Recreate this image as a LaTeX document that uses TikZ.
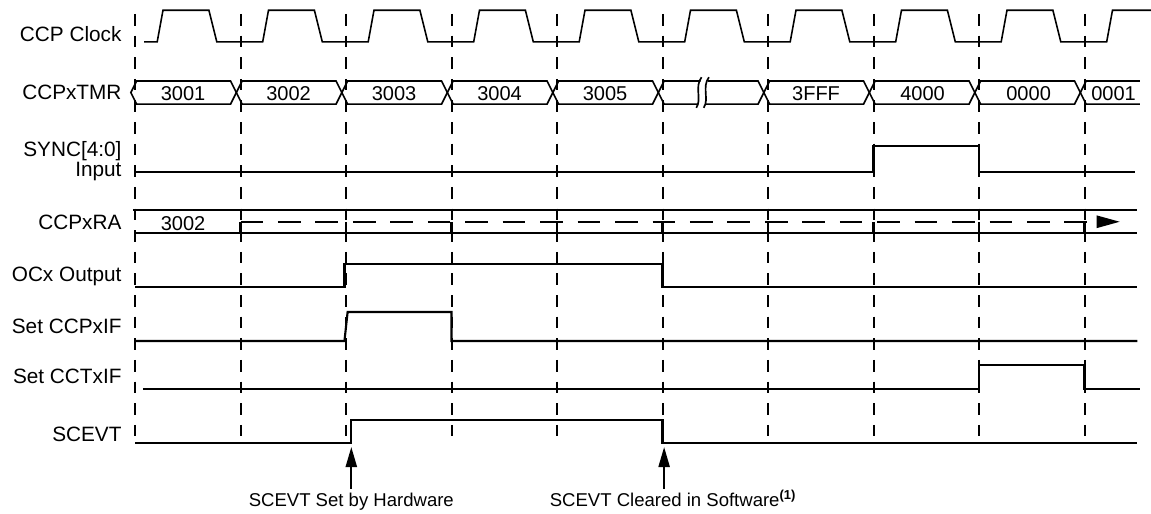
\documentclass[tikz,border=0pt]{standalone}
\usepackage{fontspec}
\setmainfont{Liberation Sans}
\usetikzlibrary{arrows.meta}

\begin{document}
\begin{tikzpicture}[
        sigline/.style={line width=1.15pt},
        clkline/.style={line width=0.85pt},
        busline/.style={line width=0.9pt},
        gridline/.style={line width=1.1pt, dash pattern=on 0.22cm off 0.19cm},
        raline/.style={line width=1.15pt, dash pattern=on 0.43cm off 0.28cm, -{Triangle[length=0.44cm, width=0.23cm]}},
        evarrow/.style={line width=1.15pt, -{Triangle[length=0.38cm, width=0.21cm]}},
        lbl/.style={anchor=base east, inner sep=0pt, font=\fontsize{11.2}{13}\selectfont},
        busval/.style={anchor=base, inner sep=0pt, font=\fontsize{10.8}{13}\selectfont},
        evlbl/.style={anchor=base, inner sep=2pt, text height=7.5pt, text depth=2pt, font=\fontsize{10}{12}\selectfont}
    ]

        \useasboundingbox (-2.56, 0) rectangle (19.26, 9.744);

        % Define nodes (row labels)

        \node (clklbl) at (-0.25, 8.95) [lbl] {CCP Clock};

        \node (tmrlbl) at (-0.25, 7.85) [lbl] {CCPxTMR};

        \node (synclbl) at (-0.25, 6.69) [lbl, anchor=east, align=right, font=\fontsize{11.2}{11.2}\selectfont] {SYNC[4:0]\\Input};

        \node (ralbl) at (-0.25, 5.40) [lbl] {CCPxRA};

        \node (oclbl) at (-0.25, 4.40) [lbl] {OCx Output};

        \node (ccpiflbl) at (-0.25, 3.43) [lbl] {Set CCPxIF};

        \node (cctiflbl) at (-0.25, 2.48) [lbl] {Set CCTxIF};

        \node (scelbl) at (-0.25, 1.38) [lbl] {SCEVT};

        % clock edges (dashed)

        \draw[gridline] (0, 9.48) -- (0, 1.35);
        \draw[gridline] (2, 9.48) -- (2, 1.35);
        \draw[gridline] (4, 9.48) -- (4, 1.35);
        \draw[gridline] (6, 9.48) -- (6, 1.35);
        \draw[gridline] (8, 9.48) -- (8, 1.35);
        \draw[gridline] (10, 9.48) -- (10, 1.35);
        \draw[gridline] (12, 9.48) -- (12, 1.35);
        \draw[gridline] (14, 9.48) -- (14, 1.35);
        \draw[gridline] (16, 9.48) -- (16, 1.35);
        \draw[gridline] (18, 9.48) -- (18, 1.35);

        % CCP Clock

        \draw[clkline] (0.17, 8.95) -- (0.42, 8.95)
            -- ++(0.11, 0.6) -- ++(0.87, 0) -- ++(0.15, -0.6) -- ++(0.87, 0)
            -- ++(0.11, 0.6) -- ++(0.87, 0) -- ++(0.15, -0.6) -- ++(0.87, 0)
            -- ++(0.11, 0.6) -- ++(0.87, 0) -- ++(0.15, -0.6) -- ++(0.87, 0)
            -- ++(0.11, 0.6) -- ++(0.87, 0) -- ++(0.15, -0.6) -- ++(0.87, 0)
            -- ++(0.11, 0.6) -- ++(0.87, 0) -- ++(0.15, -0.6) -- ++(0.87, 0)
            -- ++(0.11, 0.6) -- ++(0.87, 0) -- ++(0.15, -0.6) -- ++(0.87, 0)
            -- ++(0.11, 0.6) -- ++(0.87, 0) -- ++(0.15, -0.6) -- ++(0.87, 0)
            -- ++(0.11, 0.6) -- ++(0.87, 0) -- ++(0.15, -0.6) -- ++(0.87, 0)
            -- ++(0.11, 0.6) -- ++(0.87, 0) -- ++(0.15, -0.6) -- ++(0.87, 0)
            -- ++(0.11, 0.6) -- (19.26, 9.55);

        % CCPxTMR bus

        \draw[busline] (-0.08, 7.99) -- (0.03, 8.21) -- (1.81, 8.21) -- (1.92, 7.99) -- (1.81, 7.77) -- (0.03, 7.77) -- cycle;
        \draw[busline] (1.92, 7.99) -- (2.03, 8.21) -- (3.81, 8.21) -- (3.92, 7.99) -- (3.81, 7.77) -- (2.03, 7.77) -- cycle;
        \draw[busline] (3.92, 7.99) -- (4.03, 8.21) -- (5.81, 8.21) -- (5.92, 7.99) -- (5.81, 7.77) -- (4.03, 7.77) -- cycle;
        \draw[busline] (5.92, 7.99) -- (6.03, 8.21) -- (7.81, 8.21) -- (7.92, 7.99) -- (7.81, 7.77) -- (6.03, 7.77) -- cycle;
        \draw[busline] (7.92, 7.99) -- (8.03, 8.21) -- (9.81, 8.21) -- (9.92, 7.99) -- (9.81, 7.77) -- (8.03, 7.77) -- cycle;

        \draw[busline] (10.72, 8.21) -- (10.03, 8.21) -- (9.92, 7.99) -- (10.03, 7.77) -- (10.67, 7.77);
        \draw[busline] (10.86, 8.21) -- (11.81, 8.21) -- (11.92, 7.99) -- (11.81, 7.77) -- (10.81, 7.77);
        \draw[busline] (10.64, 7.70) .. controls (10.75, 7.86) and (10.60, 8.10) .. (10.74, 8.28);
        \draw[busline] (10.78, 7.70) .. controls (10.89, 7.86) and (10.74, 8.10) .. (10.88, 8.28);

        \draw[busline] (11.92, 7.99) -- (12.03, 8.21) -- (13.81, 8.21) -- (13.92, 7.99) -- (13.81, 7.77) -- (12.03, 7.77) -- cycle;
        \draw[busline] (13.92, 7.99) -- (14.03, 8.21) -- (15.81, 8.21) -- (15.92, 7.99) -- (15.81, 7.77) -- (14.03, 7.77) -- cycle;
        \draw[busline] (15.92, 7.99) -- (16.03, 8.21) -- (17.81, 8.21) -- (17.92, 7.99) -- (17.81, 7.77) -- (16.03, 7.77) -- cycle;
        \draw[busline] (19.05, 8.21) -- (18.03, 8.21) -- (17.92, 7.99) -- (18.03, 7.77) -- (19.05, 7.77);

        \node (tmr0) at (0.91, 7.83) [busval] {3001};
        \node (tmr1) at (2.91, 7.83) [busval] {3002};
        \node (tmr2) at (4.91, 7.83) [busval] {3003};
        \node (tmr3) at (6.91, 7.83) [busval] {3004};
        \node (tmr4) at (8.91, 7.83) [busval] {3005};
        \node (tmr6) at (12.91, 7.83) [busval] {3FFF};
        \node (tmr7) at (14.93, 7.83) [busval] {4000};
        \node (tmr8) at (16.94, 7.83) [busval] {0000};
        \node (tmr9) at (18.55, 7.83) [busval] {0001};

        % SYNC[4:0] Input

        \draw[sigline] (0, 6.48) -- (14, 6.48) -- (14, 6.98) -- (16, 6.98) -- (16, 6.48) -- (18.95, 6.48);

        % CCPxRA

        \node (ra0) at (0.91, 5.38) [busval] {3002};

        \draw[sigline] (-0.04, 5.76) -- (19.0, 5.76);
        \draw[sigline] (0, 5.33) -- (19.0, 5.33);
        \draw[sigline] (2, 5.33) -- (2, 5.54);
        \draw[raline] (2, 5.54) -- (18.67, 5.54);

        \draw[sigline] (4, 5.33) -- (4, 5.54);
        \draw[sigline] (6, 5.33) -- (6, 5.54);
        \draw[sigline] (8, 5.33) -- (8, 5.54);
        \draw[sigline] (10, 5.33) -- (10, 5.54);
        \draw[sigline] (12, 5.33) -- (12, 5.54);
        \draw[sigline] (14, 5.33) -- (14, 5.54);
        \draw[sigline] (16, 5.33) -- (16, 5.54);
        \draw[sigline] (18, 5.33) -- (18, 5.54);

        % OCx Output, flags, SCEVT

        \draw[sigline] (0, 4.30) -- (3.97, 4.30) -- (3.97, 4.74) -- (10, 4.74) -- (10, 4.30) -- (19.0, 4.30);

        \draw[sigline] (0, 3.28) -- (3.97, 3.28) -- (4.03, 3.83) -- (6, 3.83) -- (6, 3.28) -- (19.0, 3.28);

        \draw[sigline] (0.15, 2.37) -- (16, 2.37) -- (16, 2.83) -- (18, 2.83) -- (18, 2.37) -- (19.05, 2.37);

        \draw[sigline] (0, 1.35) -- (4.1, 1.35) -- (4.1, 1.78) -- (10, 1.78) -- (10, 1.35) -- (19.0, 1.35);

        % Draw arrows (events)

        \coordinate (hwset) at (4.1, 1.27);

        \coordinate (swclr) at (10.03, 1.27);

        \node (hwlbl) at (4.1, 0.14) [evlbl] {SCEVT Set by Hardware};

        \node (swlbl) at (10.2, 0.14) [evlbl] {SCEVT Cleared in Software\textsuperscript{\textbf{(1)}}};

        \draw[evarrow] (hwlbl.north) -- (hwset);

        \draw[evarrow] (swclr |- swlbl.north) -- (swclr);

\end{tikzpicture}
\end{document}
